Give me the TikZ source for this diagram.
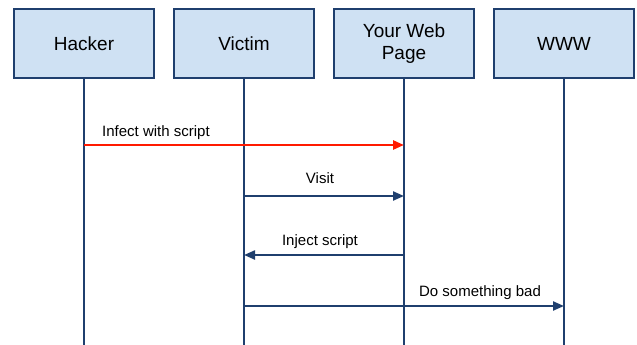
\documentclass[tikz,border=0pt]{standalone}
\usepackage{fontspec}
\setmainfont{Liberation Sans}
\usetikzlibrary{arrows.meta}
\definecolor{navy}{HTML}{1F3F6E}
\definecolor{boxfill}{HTML}{CFE1F3}
\definecolor{alarm}{HTML}{FF1A00}
\begin{document}
\begin{tikzpicture}[x=1pt,y=-1pt,
  actor/.style={draw=navy,line width=2.2pt,fill=boxfill,minimum width=140pt,minimum height=69pt,
    inner sep=0pt,align=center,font=\fontsize{19}{22}\selectfont},
  lifeline/.style={draw=navy,line width=2.2pt},
  msg/.style={draw=navy,line width=2.2pt,-{Triangle[length=11pt,width=9pt]}},
  badmsg/.style={draw=alarm,line width=2.5pt,-{Triangle[length=11pt,width=9pt]}},
  lbl/.style={inner sep=0pt,font=\fontsize{15}{17}\selectfont}]
\useasboundingbox (0,0) rectangle (637,345);

% participants
\node[actor] (hacker) at (84,43.5) {Hacker};
\node[actor] (victim) at (244,43.5) {Victim};
\node[actor] (page)   at (404,43.5) {Your Web\\Page};
\node[actor] (www)    at (564,43.5) {WWW};

% lifeline ends
\coordinate (hackerEnd) at (84,345);
\coordinate (victimEnd) at (244,345);
\coordinate (pageEnd)   at (404,345);
\coordinate (wwwEnd)    at (564,345);

\draw[lifeline] (hacker.south) -- (hackerEnd);
\draw[lifeline] (victim.south) -- (victimEnd);
\draw[lifeline] (page.south) -- (pageEnd);
\draw[lifeline] (www.south) -- (wwwEnd);

% message points on the lifelines
\coordinate (m1a) at (84,145);
\coordinate (m1b) at (404,145);
\coordinate (m2a) at (244,196);
\coordinate (m2b) at (404,196);
\coordinate (m3a) at (404,255);
\coordinate (m3b) at (244,255);
\coordinate (m4a) at (244,306);
\coordinate (m4b) at (564,306);

% messages
\draw[badmsg] (m1a) -- (m1b);
\draw[msg] (m2a) -- (m2b);
\draw[msg] (m3a) -- (m3b);
\draw[msg] (m4a) -- (m4b);

% message labels
\node[lbl,anchor=base west] (l1) at (102,136) {Infect with script};
\node[lbl,anchor=base] (l2) at (320,183) {Visit};
\node[lbl,anchor=base] (l3) at (320,245) {Inject script};
\node[lbl,anchor=base] (l4) at (480,296) {Do something bad};
\end{tikzpicture}
\end{document}
